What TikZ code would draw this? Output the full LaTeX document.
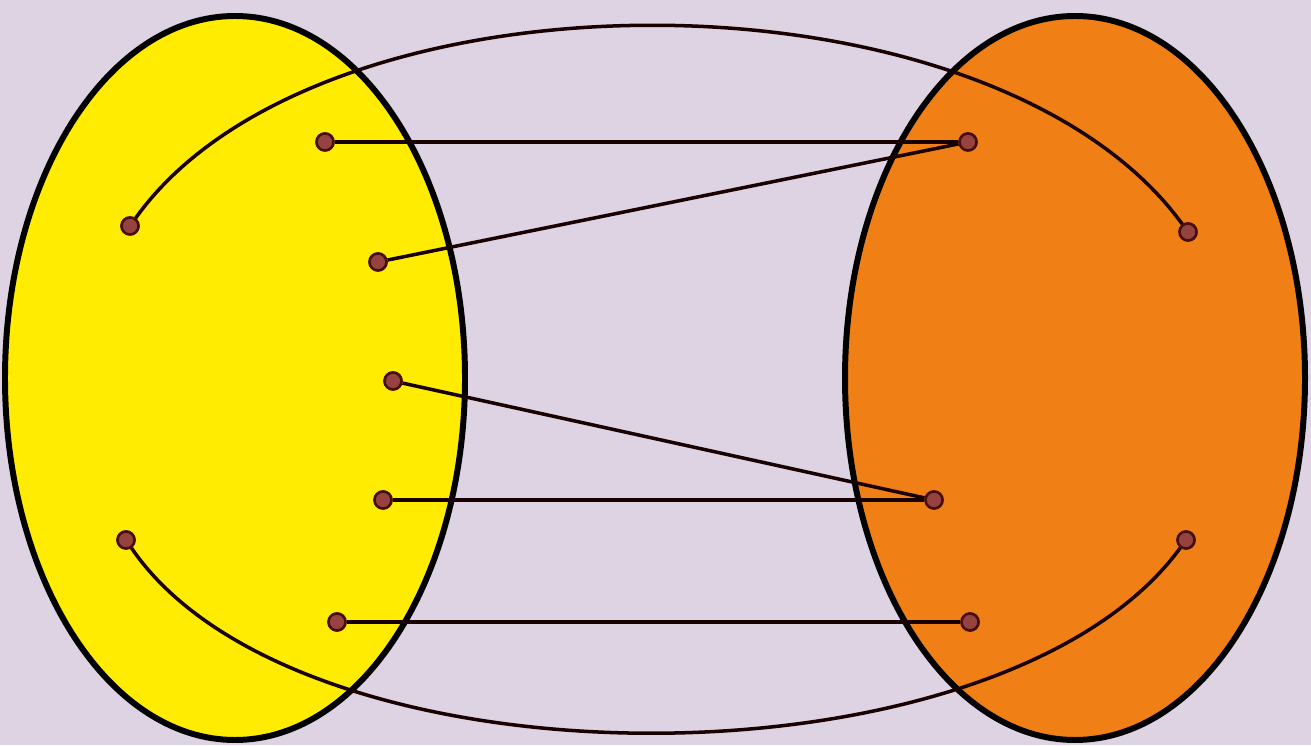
\documentclass[tikz,border=0pt]{standalone}
\usepackage{xcolor}
\usepackage{tikz}
\usetikzlibrary{shapes,positioning,calc}
\definecolor{bgpaper}{RGB}{221,211,226}
\definecolor{setyellow}{RGB}{255,236,0}
\definecolor{setorange}{RGB}{240,128,22}
\definecolor{ptfill}{RGB}{150,66,62}
\definecolor{ptrim}{RGB}{70,14,14}

\begin{document}
\begin{tikzpicture}[
    set/.style={ellipse, draw=black, line width=1.7pt, minimum width=4.6cm, minimum height=7.24cm, inner sep=0pt},
    pt/.style={circle, draw=ptrim, fill=ptfill, line width=0.7pt, minimum size=0.17cm, inner sep=0pt},
    link/.style={line width=1.0pt, draw=black!90!red}
]
    % ============ Background ============
    \fill[bgpaper] (0,0) rectangle (13.11,7.45);
    \useasboundingbox (0,0) rectangle (13.11,7.45);

    % ============ Sets ============
    \node[set, fill=setyellow] (setA) at (2.35,3.67) {};
    \node[set, fill=setorange] (setB) at (10.75,3.67) {};

    % ============ Elements of A ============
    \node[pt] (a1) at (1.30,5.19) {};
    \node[pt] (a2) at (3.25,6.03) {};
    \node[pt] (a3) at (3.78,4.83) {};
    \node[pt] (a4) at (3.93,3.64) {};
    \node[pt] (a5) at (3.83,2.45) {};
    \node[pt] (a6) at (1.26,2.05) {};
    \node[pt] (a7) at (3.37,1.23) {};

    % ============ Elements of B ============
    \node[pt] (b1) at (9.68,6.03) {};
    \node[pt] (b2) at (11.88,5.13) {};
    \node[pt] (b3) at (9.34,2.45) {};
    \node[pt] (b4) at (11.86,2.05) {};
    \node[pt] (b5) at (9.70,1.23) {};

    % ============ Mapping ============
    \draw[link] (a2) -- (b1);
    \draw[link] (a3) -- (b1);
    \draw[link] (a4) -- (b3);
    \draw[link] (a5) -- (b3);
    \draw[link] (a7) -- (b5);
    \draw[link] (a1) .. controls (3.2,7.85) and (9.9,7.85) .. (b2);
    \draw[link] (a6) .. controls (3.0,-0.5) and (10.0,-0.5) .. (b4);

    % dots on top again
    \foreach \p in {a1,a2,a3,a4,a5,a6,a7,b1,b2,b3,b4,b5}
        \node[pt] at (\p) {};

\end{tikzpicture}
\end{document}
